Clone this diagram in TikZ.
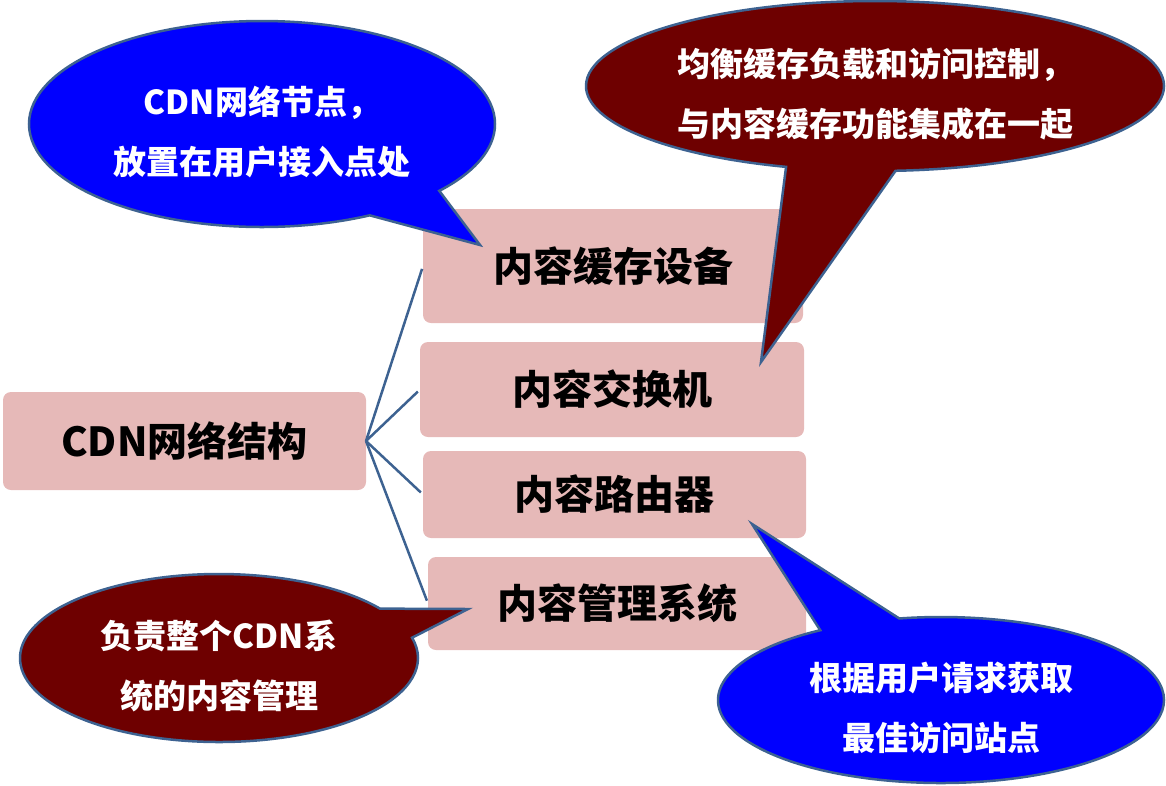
\documentclass[tikz,border=0pt]{standalone}
\usepackage{fontspec}
\setmainfont{Noto Sans CJK SC}
\usepackage{tikz}
\usetikzlibrary{shapes.callouts}
\definecolor{boxpink}{HTML}{E6B9B8}
\definecolor{edgeblue}{HTML}{3D6291}
\definecolor{tipblue}{HTML}{0000FF}
\definecolor{tipred}{HTML}{6E0000}
\tikzstyle{part} = [fill=boxpink, rounded corners=8pt, inner sep=0pt, outer sep=0pt, font=\fontsize{40}{48}\selectfont\bfseries]
\tikzstyle{link} = [edgeblue, line width=2.5pt, shorten >=3pt]
\tikzstyle{bubble} = [ellipse callout, draw=edgeblue, line width=2.5pt, text=white, inner sep=0pt, outer sep=0pt, callout pointer arc=22, align=center, font=\fontsize{33}{60}\selectfont\bfseries]
\newcommand{\lift}{\rule{0pt}{45pt}}

\begin{document}
\begin{tikzpicture}[x=1pt, y=-1pt]
\useasboundingbox (0,0) rectangle (1166,785);
\node[part, minimum width=363pt, minimum height=98pt] (cdn) at (184.5,441) {CDN网络结构};
\node[part, minimum width=380pt, minimum height=114pt] (cache) at (613,266) {内容缓存设备};
\node[part, minimum width=384pt, minimum height=95pt] (switch) at (612,389.5) {内容交换机};
\node[part, minimum width=383pt, minimum height=87pt] (router) at (614.5,494.5) {内容路由器};
\node[part, minimum width=378pt, minimum height=93pt] (manage) at (617,603.5) {内容管理系统};

\draw[link] (cdn.east) -- (cache.west);
\draw[link] (cdn.east) -- (switch.west);
\draw[link] (cdn.east) -- (router.west);
\draw[link] (cdn.east) -- (manage.west);

% callouts on top
\node[bubble, fill=tipblue, minimum width=466pt, minimum height=206pt,
  callout absolute pointer={(480,245)}] (node-tip) at (262,124)
  {\lift CDN网络节点，\\放置在用户接入点处};
\node[bubble, fill=tipred, minimum width=578pt, minimum height=170pt,
  callout absolute pointer={(761,362)}] (switch-tip) at (875,86)
  {\lift 均衡缓存负载和访问控制，\\与内容缓存功能集成在一起};
\node[bubble, fill=tipblue, minimum width=446pt, minimum height=166pt,
  callout absolute pointer={(752,524)}] (router-tip) at (941,700)
  {\lift 根据用户请求获取\\最佳访问站点};
\node[bubble, fill=tipred, minimum width=398pt, minimum height=168pt,
  callout absolute pointer={(468,609)}] (manage-tip) at (219,658)
  {\lift 负责整个CDN系\\统的内容管理};
\end{tikzpicture}
\end{document}
